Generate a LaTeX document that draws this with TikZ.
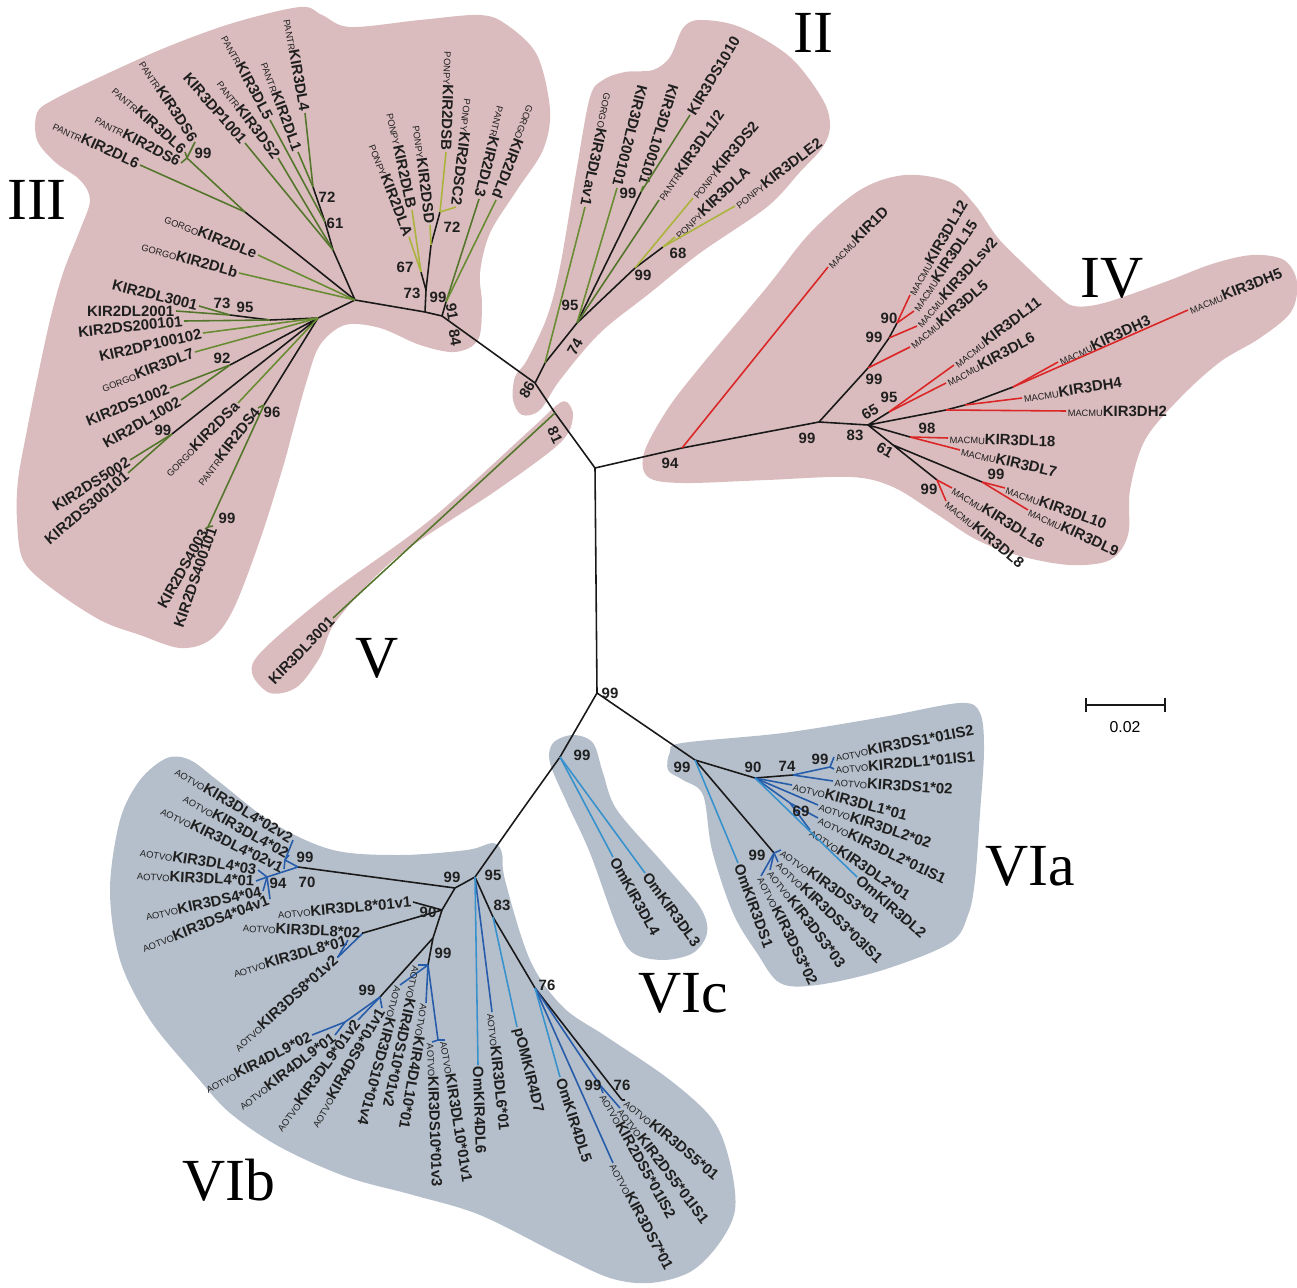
\documentclass[tikz,border=0pt]{standalone}
\usepackage{fontspec}
\newfontfamily\labfont{Liberation Sans}
\newfontfamily\romfont{Liberation Serif}
\usetikzlibrary{positioning}

\definecolor{cladepink}{RGB}{219,188,190}
\definecolor{cladeblue}{RGB}{181,191,203}
\definecolor{macred}{RGB}{218,38,38}
\definecolor{gorgreen}{RGB}{104,140,50}
\definecolor{pongreen}{RGB}{170,180,60}
\definecolor{pangreen}{RGB}{84,118,44}
\definecolor{omblue}{RGB}{55,145,205}
\definecolor{aotblue}{RGB}{38,92,170}

\newcommand{\sppre}[1]{{\fontsize{5.3}{6}\selectfont\mdseries#1}}

\tikzset{
  lab/.style={font=\labfont\bfseries\fontsize{8.5}{10}\selectfont, inner sep=0.8pt, text=black!88},
  boot/.style={font=\labfont\bfseries\fontsize{8.5}{10}\selectfont, inner sep=0pt, text=black!88},
  cladename/.style={font=\romfont\fontsize{34}{34}\selectfont, inner sep=0pt},
  br/.style={line width=0.9pt, black!90},
  lf/.style={line width=0.9pt},
}

\begin{document}
\begin{tikzpicture}[x=0.02cm, y=-0.02cm]
\useasboundingbox (0,0) rectangle (1297,1287);

% clade backgrounds
\fill[cladepink] plot[smooth cycle, tension=0.55] coordinates {(350,27) (420,20) (480,15) (507,25) (537,55) (550,110) (543,150) (517,190) (490,233) (480,273) (482,305) (478,340) (455,352) (420,345) (380,328) (345,325) (320,345) (307,380) (293,430) (283,467) (260,540) (233,610) (210,640) (180,648) (140,635) (100,620) (50,587) (23,560) (17,520) (18,480) (27,430) (37,380) (50,320) (63,273) (80,230) (90,200) (80,180) (55,162) (37,140) (37,113) (53,100) (100,77) (167,47) (233,23) (300,7) (322,15)};
\fill[cladepink] plot[smooth cycle, tension=0.55] coordinates {(515,377) (527,360) (547,317) (560,267) (577,167) (590,97) (603,80) (625,72) (653,70) (670,57) (683,28) (700,20) (740,27) (790,57) (823,100) (830,127) (822,148) (800,172) (767,207) (700,253) (650,293) (600,333) (560,380) (540,410) (522,415) (513,400)};
\fill[cladepink] plot[smooth cycle, tension=0.55] coordinates {(567,402) (573,417) (560,443) (497,490) (397,557) (337,620) (320,657) (297,687) (270,693) (252,673) (263,650) (330,593) (430,520) (530,430) (557,405)};
\fill[cladepink] plot[smooth cycle, tension=0.55] coordinates {(644,453) (648,477) (682,483) (767,480) (851,477) (893,487) (935,513) (977,540) (1020,556) (1070,565) (1110,560) (1128,535) (1130,490) (1145,440) (1180,398) (1220,362) (1260,338) (1291,312) (1297,282) (1284,260) (1252,255) (1212,264) (1165,282) (1104,303) (1074,306) (1057,295) (1028,268) (998,238) (975,205) (950,182) (905,175) (860,190) (810,233) (767,287) (700,367) (667,410)};
\fill[cladeblue] plot[smooth cycle, tension=0.55] coordinates {(670,752) (682,743) (783,733) (883,717) (960,703) (980,713) (984,750) (980,813) (975,880) (968,915) (950,943) (883,970) (817,985) (780,983) (757,953) (733,913) (712,850) (703,795) (683,780) (668,770)};
\fill[cladeblue] plot[smooth cycle, tension=0.55] coordinates {(553,743) (573,735) (593,743) (603,773) (617,810) (663,863) (700,907) (707,933) (693,953) (663,960) (633,953) (617,927) (590,853) (567,803) (550,763)};
\fill[cladeblue] plot[smooth cycle, tension=0.55] coordinates {(167,758) (190,760) (217,780) (273,823) (333,850) (400,855) (467,850) (493,843) (502,853) (505,880) (530,960) (563,1007) (607,1037) (670,1080) (713,1120) (730,1163) (735,1210) (718,1245) (690,1272) (650,1283) (610,1278) (560,1255) (480,1215) (413,1195) (347,1177) (280,1147) (230,1113) (197,1077) (150,1020) (120,960) (110,890) (120,820) (140,780)};

% inner nodes of the tree
\coordinate (R3) at (355,300);   \coordinate (nB) at (333,250);
\coordinate (n61) at (325,222);  \coordinate (n72) at (313,187);
\coordinate (nNa) at (245,212);  \coordinate (n99a) at (187,158);
\coordinate (R3b) at (318,318);  \coordinate (n95a) at (270,320);
\coordinate (n73) at (230,315);  \coordinate (n92) at (230,365);
\coordinate (n99b) at (172,434); \coordinate (n96) at (264,405);
\coordinate (n99c) at (208,527);
\coordinate (nP0) at (425,312);  \coordinate (nP1) at (426,290);
\coordinate (n67) at (421,272);  \coordinate (n72b) at (431,245);
\coordinate (n72c) at (440,212); \coordinate (n91a) at (442,316);
\coordinate (n91) at (446,302);
\coordinate (n86) at (535,383);  \coordinate (nGx) at (545,363);
\coordinate (n74) at (577,323);  \coordinate (n99d) at (641,192);
\coordinate (n99e) at (635,268); \coordinate (n68) at (663,247);
\coordinate (nV) at (555,413);   \coordinate (C0) at (595,468);
\coordinate (n94) at (682,448);  \coordinate (n99f) at (819,422);
\coordinate (nU) at (868,368);   \coordinate (n99g) at (889,338);
\coordinate (n90) at (897,323);  \coordinate (n83) at (868,425);
\coordinate (n65) at (889,412);  \coordinate (nH) at (946,410);
\coordinate (nH4) at (965,405);  \coordinate (nH35) at (1013,387);
\coordinate (n98) at (910,437);  \coordinate (n61b) at (893,445);
\coordinate (n99h) at (982,482); \coordinate (n99i) at (937,480);
\coordinate (C1) at (597,693);   \coordinate (n99j) at (695,760);
\coordinate (n99k) at (774,853); \coordinate (n90a) at (755,778);
\coordinate (n74a) at (793,775); \coordinate (n99l) at (830,767);
\coordinate (n69) at (790,803);
\coordinate (nVI) at (560,757);  \coordinate (nK) at (520,813);
\coordinate (n95) at (475,877);  \coordinate (n99) at (455,888);
\coordinate (n99o) at (298,867); \coordinate (nA4) at (285,860);
\coordinate (nB4) at (267,877);  \coordinate (n90b) at (442,910);
\coordinate (n8) at (363,933);   \coordinate (nC8) at (338,957);
\coordinate (n99p) at (433,938); \coordinate (n99q) at (380,997);
\coordinate (nD9) at (345,1022); \coordinate (nS) at (428,965);
\coordinate (nT) at (438,1040);  \coordinate (n83b) at (493,917);
\coordinate (n76) at (535,988);  \coordinate (n76b) at (622,1100);
\coordinate (n99r) at (600,1085);

% backbone
\draw[br] (R3)--(nB)--(n61)--(n72) (R3)--(nNa) (R3)--(R3b)--(n95a)--(n73)
  (R3b)--(n92) (R3b)--(n99b) (R3b)--(n96);
\draw[br] (R3)--(nP0)--(n91a)--(n86)--(nV)--(C0)--(C1)
  (nP0)--(nP1)--(n67) (nP1)--(n72b)--(n72c) (n91a)--(n91)
  (n86)--(nGx)--(n74)--(n99d) (n74)--(n99e)--(n68);
\draw[br] (C0)--(n94)--(n99f)--(n83) (n99f)--(nU)--(n99g)--(n90) (n83)--(n65)
  (n83)--(nH)--(nH4)--(nH35) (n83)--(n98) (n83)--(n61b)--(n99h) (n61b)--(n99i);
\draw[br] (C1)--(n99j)--(n99k) (n99j)--(n90a)--(n74a)
  (C1)--(nVI)--(nK)--(n95)--(n99)--(n99o) (n99)--(n90b)--(n8) (n90b)--(n99p)--(n99q)
  (n99p)--(nS) (n95)--(n83b)--(n76)--(n76b);
\draw[lf, pangreen] (nNa)--(n99a) (n96)--(n99c);
\draw[lf, aotblue] (n74a)--(n99l) (n90a)--(n69) (n99o)--(nA4) (n99o)--(nB4)
  (n8)--(nC8) (n99q)--(nD9) (nS)--(nT) (n76)--(n99r);

% leaves: names ending at the branch
\foreach \p/\n/\x/\y/\a/\t in {
  n72/lA1/305/113/-80/{\sppre{PANTR}KIR3DL4}, n72/lA2/298/152/-70/{\sppre{PANTR}KIR2DL1},
  n61/lA3/270/120/-62/{\sppre{PANTR}KIR3DL5}, nB/lA4/278/158/-53/{\sppre{PANTR}KIR3DS2},
  nB/lA5/245/143/-49/{KIR3DP1001}, n99a/lA6/195/142/-57/{\sppre{PANTR}KIR3DS6},
  n99a/lA7/185/152/-42/{\sppre{PANTR}KIR3DL6}, n99a/lA8/181/163/-28/{\sppre{PANTR}KIR2DS6},
  nNa/lA9/140/165/-25/{\sppre{PANTR}KIR2DL6}, n73/lA10/199/306/-14/{KIR2DL3001},
  n73/lA11/176/311/0/{KIR2DL2001}, n95a/lA12/184/321/6/{KIR2DS200101},
  n92/lA13/170/388/22/{KIR2DS1002}, n92/lA14/181/400/30/{KIR2DL1002},
  n99b/lA15/130/460/32/{KIR2DS5002}, n99b/lA16/128/473/40/{KIR2DS300101},
  n96/lA17/258/408/52/{\sppre{PANTR}KIR2DS4}, n99c/lA18/205/529/61/{KIR2DS4003},
  n99c/lA19/213/526/71/{KIR2DS400101}, n91/lA20/479/199/-104/{\sppre{PANTR}KIR2DL3},
  nV/lA21/333/618/46/{KIR3DL3001}}
  {\node[lab, rotate=\a, anchor=east] (\n) at (\x,\y) {\t};
   \draw[lf, pangreen] (\p) -- (\n.east);}
\foreach \p/\n/\x/\y/\a/\t in {
  R3/lG1/258/255/-22/{\sppre{GORGO}KIR2DLe}, R3/lG2/239/273/-16/{\sppre{GORGO}KIR2DLb},
  R3b/lG3/203/333/13/{KIR2DP100102}, R3b/lG4/195/352/21/{\sppre{GORGO}KIR3DL7},
  R3b/lG5/238/403/45/{\sppre{GORGO}KIR2DSa}, n91/lG6/496/200/-111/{\sppre{GORGO}KIR2DLd},
  nGx/lG7/585/207/-102/{\sppre{GORGO}KIR3DLav1}, n74/lG8/617/188/-104/{KIR3DL200101},
  n99d/lG9/643/186/-107/{KIR3DL100101}}
  {\node[lab, rotate=\a, anchor=east] (\n) at (\x,\y) {\t};
   \draw[lf, gorgreen] (\p) -- (\n.east);}
\foreach \p/\n/\x/\y/\a/\t in {
  n67/lP1/409/237/-69/{\sppre{PONPY}KIR2DLA}, n67/lP2/412/210/-78/{\sppre{PONPY}KIR2DLB},
  n72b/lP3/430/225/-83/{\sppre{PONPY}KIR2DSD}, n72c/lP4/446/152/-92/{\sppre{PONPY}KIR2DSB},
  n72c/lP5/456/207/-97/{\sppre{PONPY}KIR2DSC2}}
  {\node[lab, rotate=\a, anchor=east] (\n) at (\x,\y) {\t};
   \draw[lf, pongreen] (\p) -- (\n.east);}

% leaves: names starting at the branch
\foreach \p/\n/\x/\y/\a/\t/\c in {
  n99d/lW1/690/115/59/{KIR3DS1010}/pangreen, n74/lW2/659/200/55/{\sppre{PANTR}KIR3DL1/2}/pangreen,
  n99e/lW3/693/198/50/{\sppre{PONPY}KIR3DS2}/pongreen, n68/lW4/675/237/43/{\sppre{PONPY}KIR3DLA}/pongreen,
  n68/lW5/735/206/37/{\sppre{PONPY}KIR3DLE2}/pongreen}
  {\node[lab, rotate=\a, anchor=west] (\n) at (\x,\y) {\t};
   \draw[lf, \c] (\p) -- (\n.west);}
\foreach \p/\n/\x/\y/\a/\t in {
  n94/lR1/828/267/45/KIR1D, n90/lR2/910/295/60/KIR3DL12, n90/lR3/914/311/56/KIR3DL15,
  n99g/lR4/917/326/48/KIR3DLsv2, nU/lR5/910/347/40/KIR3DL5, n65/lR6/954/365/37/KIR3DL11,
  n65/lR7/946/383/28/KIR3DL6, nH35/lR8/1058/362/25/KIR3DH3, nH35/lR9/1188/310/22/KIR3DH5,
  nH4/lR10/1022/398/9/KIR3DH4, nH/lR11/1066/411/0/KIR3DH2, n98/lR12/948/438/-2/KIR3DL18,
  n98/lR13/960/450/-13/KIR3DL7, n99h/lR14/1005/488/-20/KIR3DL10, n99h/lR15/1028/510/-25/KIR3DL9,
  n99i/lR16/952/488/-32/KIR3DL16, n99i/lR17/946/501/-40/KIR3DL8}
  {\node[lab, rotate=\a, anchor=west] (\n) at (\x,\y) {\sppre{MACMU}\t};
   \draw[lf, macred] (\p) -- (\n.west);}
\foreach \p/\n/\x/\y/\a/\t/\c in {
  n99l/lB1/834/757/11/{KIR3DS1*01IS2}/aotblue, n99l/lB2/834/769/5/{KIR2DL1*01IS1}/aotblue,
  n74a/lB3/833/781/-4/{KIR3DS1*02}/aotblue, n90a/lB4/792/785/-15/{KIR3DL1*01}/aotblue,
  n90a/lB5/818/805/-19/{KIR3DL2*02}/aotblue, n69/lB6/818/818/-26/{KIR3DL2*01IS1}/aotblue,
  n69/lB7/810/830/-34/{KIR3DL2*01}/aotblue, n99k/lB8/781/850/-36/{KIR3DS3*01}/aotblue,
  n99k/lB9/778/862/-44/{KIR3DS3*03IS1}/aotblue, n99k/lB10/770/870/-53/{KIR3DS3*03}/aotblue,
  n99k/lB11/761/876/-64/{KIR3DS3*02}/aotblue, n95/lB12/492/1012/-84/{KIR3DL6*01}/aotblue,
  n76/lB13/613/1163/-62/{KIR3DS7*01}/aotblue, n76b/lB14/625/1100/-40/{KIR3DS5*01}/black!90,
  n99r/lB15/620/1108/-53/{KIR2DS5*01IS1}/aotblue, n99r/lB16/603/1093/-61/{KIR2DS5*01IS2}/aotblue,
  nS/lB17/400/985/-105/{KIR3DS10*01v4}/aotblue, nS/lB18/418/965/-102/{KIR4DS10*01v2}/aotblue,
  nS/lB19/426/1003/-100/{KIR4DL10*01}/aotblue, nT/lB20/432/1042/-88/{KIR3DS10*01v3}/aotblue,
  nT/lB21/445/1040/-81/{KIR3DL10*01v1}/aotblue}
  {\node[lab, rotate=\a, anchor=west] (\n) at (\x,\y) {\sppre{AOTVO}\t};
   \draw[lf, \c] (\p) -- (\n.west);}
\foreach \p/\n/\x/\y/\a/\t in {
  n90a/lO1/857/877/-41/OmKIR3DL2, n99j/lO2/738/863/-70/OmKIR3DS1, nVI/lO3/613/857/-61/OmKIR3DL4,
  nVI/lO4/645/873/-54/OmKIR3DL3, n95/lO5/478/1065/-88/OmKIR4DL6, n83b/lO6/517/1027/-76/pOMKIR4D7,
  n76/lO7/560/1077/-72/OmKIR4DL5}
  {\node[lab, rotate=\a, anchor=west] (\n) at (\x,\y) {\t};
   \draw[lf, omblue] (\p) -- (\n.west);}
\foreach \p/\n/\x/\y/\a/\t/\c in {
  nA4/lC1/293/840/-31/{KIR3DL4*02v2}/aotblue, nA4/lC2/289/855/-29/{KIR3DL4*02}/aotblue,
  nA4/lC3/284/869/-26/{KIR3DL4*02v1}/aotblue, nB4/lC4/258/870/-9/{KIR3DL4*03}/aotblue,
  nB4/lC5/256/881/-3/{KIR3DL4*01}/aotblue, nB4/lC6/263/891/12/{KIR3DS4*04}/aotblue,
  nB4/lC7/270/899/21/{KIR3DS4*04v1}/aotblue, n90b/lC8/413/902/5/{KIR3DL8*01v1}/black!90,
  n8/lC9/362/933/-3/{KIR3DL8*02}/black!90, nC8/lC10/348/940/16/{KIR3DL8*01}/aotblue,
  nC8/lC11/337/957/42/{KIR3DS8*01v2}/aotblue, nD9/lC12/312/1035/27/{KIR4DL9*02}/aotblue,
  nD9/lC13/335/1035/37/{KIR4DL9*01}/aotblue, n99q/lC14/358/1020/54/{KIR3DL9*01v2}/aotblue,
  n99q/lC15/382/1008/60/{KIR4DS9*01v1}/aotblue}
  {\node[lab, rotate=\a, anchor=east] (\n) at (\x,\y) {\sppre{AOTVO}\t};
   \draw[lf, \c] (\p) -- (\n.east);}

% bootstrap values
\foreach \x/\y/\v [count=\i] in {327/197/72, 335/223/61, 203/153/99, 222/303/73, 245/307/95,
  222/358/92, 163/430/99, 272/412/96, 227/518/99, 405/267/67, 412/293/73, 438/297/99, 452/227/72,
  570/305/95, 628/193/99, 643/275/99, 678/253/68, 610/693/99, 670/463/94, 807/438/99, 874/379/99,
  874/337/99, 889/318/90, 855/435/83, 889/397/95, 927/428/98, 996/474/99, 929/489/99,
  682/767/99, 753/767/90, 787/766/74, 820/759/99, 801/811/69, 757/855/99, 582/755/99,
  493/875/95, 452/877/99, 305/857/99, 307/882/70, 278/883/94, 428/912/90, 443/953/99,
  367/990/99, 502/905/83, 547/985/76, 593/1085/99, 622/1085/76}
  {\node[boot] (bs\i) at (\x,\y) {\v};}
\foreach \x/\y/\v/\a [count=\i] in {452/312/91/-80, 455/338/84/-80, 527/390/86/60, 575/347/74/60,
  555/435/81/-65, 870/412/65/30, 885/450/61/-30}
  {\node[boot, rotate=\a] (br\i) at (\x,\y) {\v};}

% clade names
\node[cladename] (cIII) at (37,200) {III};
\node[cladename] (cII) at (813,33) {II};
\node[cladename] (cIV) at (1112,278) {IV};
\node[cladename] (cV) at (377,658) {V};
\node[cladename] (cVIa) at (1030,866) {VIa};
\node[cladename] (cVIc) at (683,993) {VIc};
\node[cladename] (cVIb) at (229,1180) {VIb};

% scale bar
\coordinate (sbL) at (1086,705);
\coordinate (sbR) at (1165,705);
\draw[br] (sbL) -- (sbR) (1086,698) -- (1086,712) (1165,698) -- (1165,712);
\node[font=\labfont\fontsize{9}{10}\selectfont] (sbT) at (1125,727) {0.02};
\end{tikzpicture}
\end{document}
